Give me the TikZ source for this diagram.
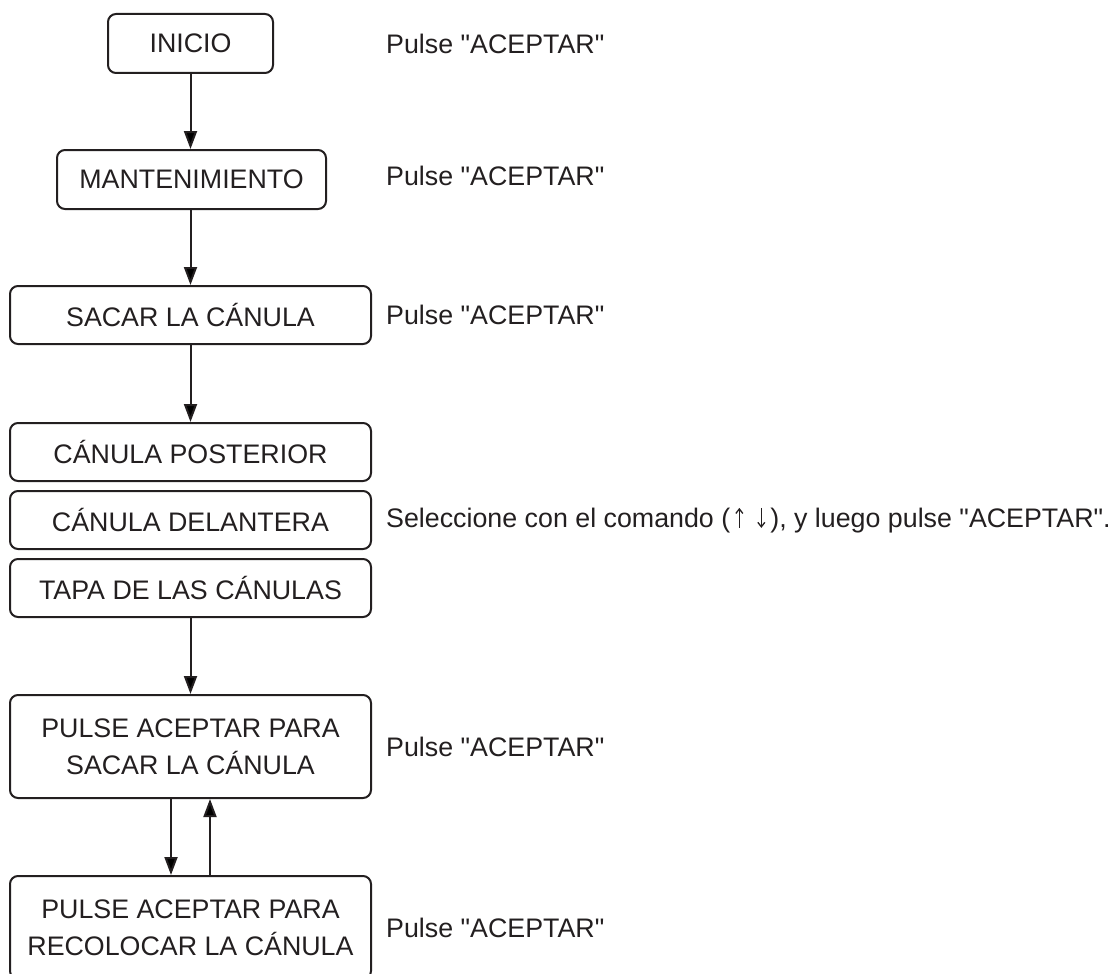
\documentclass[tikz,border=0pt]{standalone}
\usepackage{fontspec}
\setmainfont{Liberation Sans}[Ligatures=TeXOff]
\usetikzlibrary{arrows.meta}
\definecolor{ink}{HTML}{231F20}
\newcommand\myarrowup{\hspace{3pt}\tikz[baseline=0pt,x=1pt,y=1pt]{\path (-6,0) rectangle (6,19);\draw[ink,line width=1.3pt,-{Straight Barb[length=4.5pt,width=7pt]}] (0,-0.5)--(0,19.5);}\hspace{3pt}}
\newcommand\myarrowdown{\hspace{3pt}\tikz[baseline=0pt,x=1pt,y=1pt]{\path (-6,0) rectangle (6,19);\draw[ink,line width=1.3pt,-{Straight Barb[length=4.5pt,width=7pt]}] (0,19.5)--(0,-0.5);}\hspace{3pt}}
\begin{document}
\begin{tikzpicture}[x=1pt,y=-1pt,
  box/.style={draw=ink, line width=2pt, rounded corners=8pt, inner sep=0pt,
    text=ink, font=\fontsize{26.8}{37}\selectfont, align=center},
  note/.style={anchor=west, inner sep=0pt, text=ink, font=\fontsize{26.8}{37}\selectfont},
  conn/.style={draw=ink, line width=2pt, -{Triangle[length=18pt,width=13pt]}}]
\useasboundingbox (0,0) rectangle (1112,974);
\begin{scope}
\clip (0,0) rectangle (1112,974);
\node[box, minimum width=165pt, minimum height=59pt] (inicio) at (190.5,43.5) {INICIO};
\node[box, minimum width=269pt, minimum height=59pt] (mant) at (191.5,179.5) {MANTENIMIENTO};
\node[box, minimum width=361pt, minimum height=58pt] (sacar) at (190.5,315) {SACAR LA CÁNULA};
\node[box, minimum width=361pt, minimum height=58pt] (post) at (190.5,452) {CÁNULA POSTERIOR};
\node[box, minimum width=361pt, minimum height=58pt] (del) at (190.5,520) {CÁNULA DELANTERA};
\node[box, minimum width=361pt, minimum height=58pt] (tapa) at (190.5,588) {TAPA DE LAS CÁNULAS};
\node[box, minimum width=361pt, minimum height=103pt] (ps) at (190.5,746.5) {PULSE ACEPTAR PARA\\SACAR LA CÁNULA};
\node[box, minimum width=361pt, minimum height=103pt] (pr) at (190.5,927.5) {PULSE ACEPTAR PARA\\RECOLOCAR LA CÁNULA};

\node[note] (n1) at (386,43.5) {Pulse "ACEPTAR"};
\node[note] (n2) at (386,176) {Pulse "ACEPTAR"};
\node[note] (n3) at (386,315) {Pulse "ACEPTAR"};
\node[note] (n4) at (386,520) {Seleccione con el comando (\myarrowup\hspace{4pt}\myarrowdown), y luego pulse "ACEPTAR".};
\node[note] (n5) at (386,746.5) {Pulse "ACEPTAR"};
\node[note] (n6) at (386,927.5) {Pulse "ACEPTAR"};

\draw[conn] (inicio.south) -- (inicio.south |- mant.north);
\draw[conn] (mant.south -| inicio.south) -- (inicio.south |- sacar.north);
\draw[conn] (sacar.south) -- (post.north);
\draw[conn] (tapa.south) -- (ps.north);
\draw[conn] ([xshift=-19.5pt]ps.south) -- ([xshift=-19.5pt]pr.north);
\draw[conn] ([xshift=19.5pt]pr.north) -- ([xshift=19.5pt]ps.south);
\end{scope}
\end{tikzpicture}
\end{document}
